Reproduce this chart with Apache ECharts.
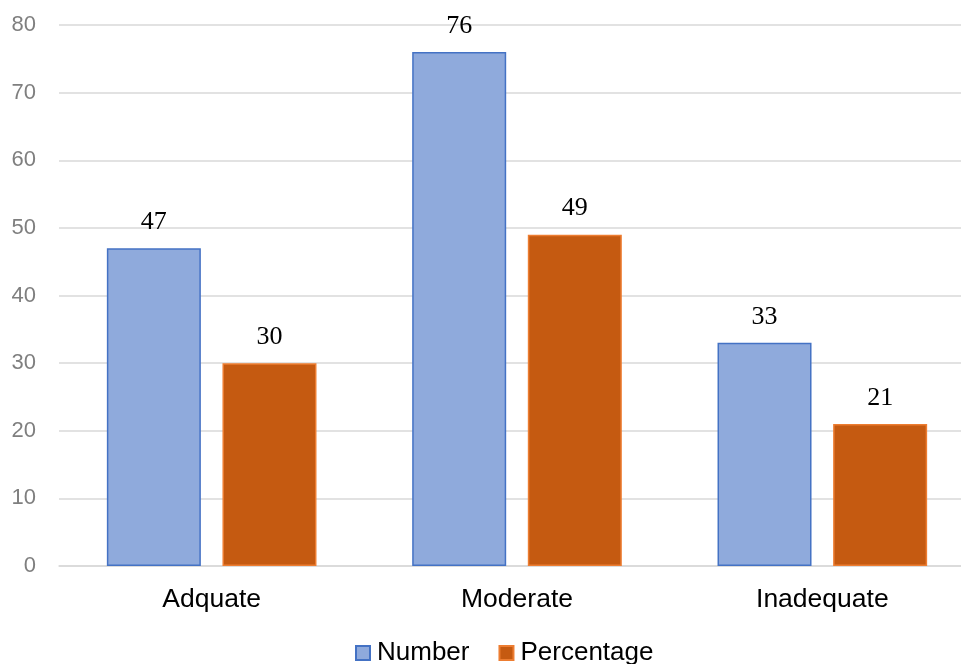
<!DOCTYPE html>
<html>
<head>
<meta charset="utf-8">
<script src="https://cdn.jsdelivr.net/npm/echarts@6/dist/echarts.min.js"></script>
<style>html,body{margin:0;padding:0;background:#fff;overflow:hidden}#c{width:975px;height:664px}</style>
</head>
<body>
<div id="c"></div>
<script>
var categories = ['Adquate', 'Moderate', 'Inadequate'];
var numberValues = [47, 76, 33];
var percentValues = [30, 49, 21];
var yTicks = [0, 10, 20, 30, 40, 50, 60, 70, 80];

var chart = echarts.init(document.getElementById('c'), null, {renderer: 'canvas'});
var labelStyle = {
  show: true, position: 'top', distance: 13,
  fontFamily: '"Liberation Serif", "DejaVu Serif", serif', fontSize: 26, color: '#000'
};
chart.setOption({
  animation: false,
  backgroundColor: '#fff',
  grid: {left: 59, top: 25, right: 0, bottom: 98},
  legend: {
    top: 640, left: 355, itemWidth: 14, itemHeight: 14, itemGap: 29, icon: 'rect', padding: 0,
    textStyle: {fontFamily: '"Liberation Sans", Arial, sans-serif', fontSize: 26, color: '#000', padding: [0,0,0,2]},
    data: ['Number', 'Percentage']
  },
  xAxis: {
    type: 'category', data: categories,
    axisLine: {lineStyle: {color: '#D9D9D9', width: 1.5}},
    axisTick: {show: false},
    axisLabel: {fontFamily: '"Liberation Sans", Arial, sans-serif', fontSize: 26.5, color: '#000', margin: 20}
  },
  yAxis: {
    type: 'value', min: yTicks[0], max: yTicks[yTicks.length - 1], interval: 10,
    axisLine: {show: false}, axisTick: {show: false},
    splitLine: {lineStyle: {color: '#D9D9D9', width: 1.5}},
    axisLabel: {fontFamily: '"Liberation Sans", Arial, sans-serif', fontSize: 22, color: '#7F7F7F', margin: 23}
  },
  series: [
    {
      name: 'Number', type: 'bar', data: numberValues, barWidth: 94, barGap: '23%',
      itemStyle: {color: '#8FAADC', borderColor: '#4472C4', borderWidth: 1.5},
      label: labelStyle
    },
    {
      name: 'Percentage', type: 'bar', data: percentValues, barWidth: 94,
      itemStyle: {color: '#C55A11', borderColor: '#ED7D31', borderWidth: 1.5},
      label: labelStyle
    }
  ]
});
</script>
</body>
</html>
